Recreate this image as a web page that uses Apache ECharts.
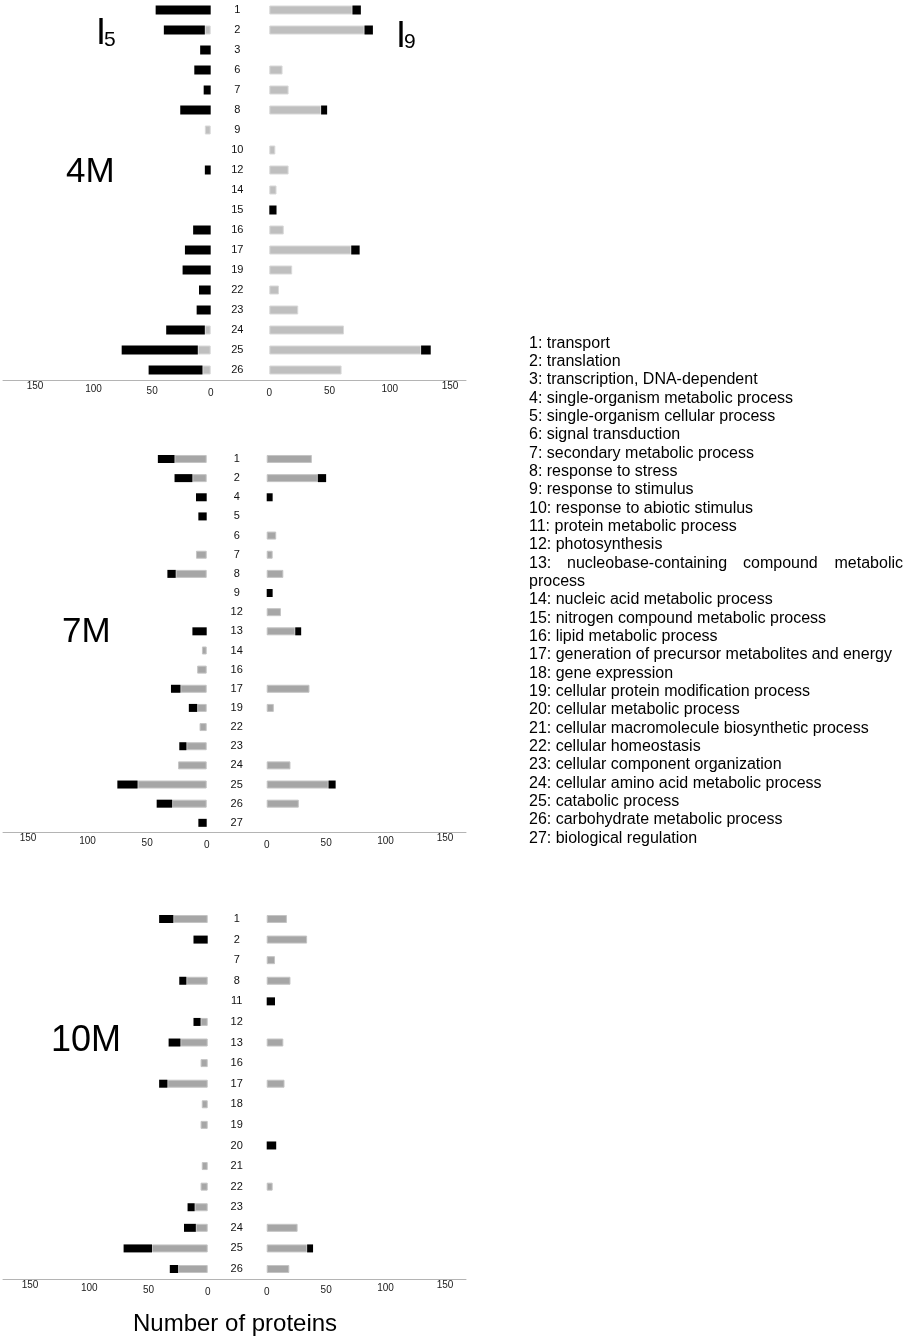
<!DOCTYPE html>
<html>
<head>
<meta charset="utf-8">
<script src="https://cdn.jsdelivr.net/npm/echarts@6/dist/echarts.min.js"></script>
<style>
  html, body { margin: 0; padding: 0; background: #fff; }
  #chart { width: 904px; height: 1339px; }
</style>
</head>
<body>
<div id="chart"></div>
<script>
// 4M
const cats4 = ['1', '2', '3', '6', '7', '8', '9', '10', '12', '14', '15', '16', '17', '19', '22', '23', '24', '25', '26'];
const i5Gray4 = [0, 5, 0, 0, 0, 0, 5, 0, 0, 0, 0, 0, 0, 0, 0, 0, 5, 11, 7];
const i5Black4 = [47, 35, 9, 14, 6, 26, 0, 0, 5, 0, 0, 15, 22, 24, 10, 12, 33, 65, 46];
const i9Gray4 = [69, 79, 0, 11, 16, 43, 0, 5, 16, 6, 0, 12, 68, 19, 8, 24, 62, 126, 60];
const i9Black4 = [7, 7, 0, 0, 0, 5, 0, 0, 0, 0, 6, 0, 7, 0, 0, 0, 0, 8, 0];

// 7M
const cats7 = ['1', '2', '4', '5', '6', '7', '8', '9', '12', '13', '14', '16', '17', '19', '22', '23', '24', '25', '26', '27'];
const i5Gray7 = [27, 12, 0, 0, 0, 9, 26, 0, 0, 0, 4, 8, 22, 8, 6, 17, 24, 58, 29, 0];
const i5Black7 = [14, 15, 9, 7, 0, 0, 7, 0, 0, 12, 0, 0, 8, 7, 0, 6, 0, 17, 13, 7];
const i9Gray7 = [38, 43, 0, 0, 8, 5, 14, 0, 12, 24, 0, 0, 36, 6, 0, 0, 20, 52, 27, 0];
const i9Black7 = [0, 7, 5, 0, 0, 0, 0, 5, 0, 5, 0, 0, 0, 0, 0, 0, 0, 6, 0, 0];

// 10M
const cats10 = ['1', '2', '7', '8', '11', '12', '13', '16', '17', '18', '19', '20', '21', '22', '23', '24', '25', '26'];
const i5Gray10 = [29, 0, 0, 18, 0, 6, 23, 6, 34, 5, 6, 0, 5, 6, 11, 10, 47, 25];
const i5Black10 = [12, 12, 0, 6, 0, 6, 10, 0, 7, 0, 0, 0, 0, 0, 6, 10, 24, 7];
const i9Gray10 = [17, 34, 7, 20, 0, 0, 14, 0, 15, 0, 0, 0, 0, 5, 0, 26, 34, 19];
const i9Black10 = [0, 0, 0, 0, 7, 0, 0, 0, 0, 0, 0, 8, 0, 0, 0, 0, 5, 0];

const axisTicks = [0, 50, 100, 150];

const processNames = [
  'transport', 'translation', 'transcription, DNA-dependent',
  'single-organism metabolic process', 'single-organism cellular process',
  'signal transduction', 'secondary metabolic process', 'response to stress',
  'response to stimulus', 'response to abiotic stimulus', 'protein metabolic process',
  'photosynthesis', 'nucleobase-containing compound metabolic process',
  'nucleic acid metabolic process', 'nitrogen compound metabolic process',
  'lipid metabolic process', 'generation of precursor metabolites and energy',
  'gene expression', 'cellular protein modification process', 'cellular metabolic process',
  'cellular macromolecule biosynthetic process', 'cellular homeostasis',
  'cellular component organization', 'cellular amino acid metabolic process',
  'catabolic process', 'carbohydrate metabolic process', 'biological regulation'
];

const panels = [
  { name: '4M', cats: cats4, l: [i5Gray4, i5Black4], r: [i9Gray4, i9Black4],
    top: -4, height: 384, lLeft: 35, lWidth: 175.7, rLeft: 269.3, rWidth: 180.7,
    labelMargin: 32, gray: '#bfbfbf', grayBorder: '#d9d9d9', barWidth: 9,
    tx: 66, ty: 172.5, tsize: 35 },
  { name: '7M', cats: cats7, l: [i5Gray7, i5Black7], r: [i9Gray7, i9Black7],
    top: 449.4, height: 383, lLeft: 28, lWidth: 178.7, rLeft: 266.7, rWidth: 178.3,
    labelMargin: 30, gray: '#a6a6a6', grayBorder: '#c4c4c4', barWidth: 8,
    tx: 62, ty: 632, tsize: 35 },
  { name: '10M', cats: cats10, l: [i5Gray10, i5Black10], r: [i9Gray10, i9Black10],
    top: 908.7, height: 370.6, lLeft: 30, lWidth: 177.7, rLeft: 266.7, rWidth: 178.3,
    labelMargin: 30, gray: '#a6a6a6', grayBorder: '#c4c4c4', barWidth: 8,
    tx: 51, ty: 1041.5, tsize: 36 }
];

const FONT = '"Liberation Sans", Arial, sans-serif';
const tickPad = { 150: 0, 100: 3, 50: 5, 0: 7 };
const rich = {};
axisTicks.forEach(v => {
  rich['p' + v] = { padding: [tickPad[v], 0, 0, 0], fontSize: 10, color: '#1a1a1a', fontFamily: FONT };
});

const grid = [], xAxis = [], yAxis = [], series = [];
const clean = arr => arr.map(v => (v ? v : '-'));

panels.forEach((p, k) => {
  const gi = grid.length;
  // left (I5), right (I9), full-width baseline
  grid.push({ left: p.lLeft, width: p.lWidth, top: p.top, height: p.height });
  grid.push({ left: p.rLeft, width: p.rWidth, top: p.top, height: p.height });
  grid.push({ left: 3, width: 463, top: p.top, height: p.height });

  const valueAxis = (gIdx, inverse) => ({
    type: 'value', gridIndex: gIdx, min: 0, max: 150, interval: 50, inverse: inverse,
    axisLine: { show: false }, axisTick: { show: false }, splitLine: { show: false },
    axisLabel: { margin: 1, formatter: v => '{p' + v + '|' + v + '}', rich: rich }
  });
  xAxis.push(valueAxis(gi, true));
  xAxis.push(valueAxis(gi + 1, false));
  xAxis.push({
    type: 'value', gridIndex: gi + 2, min: 0, max: 1,
    axisLine: { show: true, lineStyle: { color: '#b4b4b4', width: 1 } },
    axisTick: { show: false }, axisLabel: { show: false }, splitLine: { show: false }
  });

  yAxis.push({
    type: 'category', gridIndex: gi, data: p.cats, inverse: true, show: false
  });
  yAxis.push({
    type: 'category', gridIndex: gi + 1, data: p.cats, inverse: true,
    axisLine: { show: false }, axisTick: { show: false },
    axisLabel: { align: 'center', margin: p.labelMargin, fontSize: 11, color: '#111', fontFamily: FONT }
  });
  yAxis.push({ type: 'category', gridIndex: gi + 2, data: p.cats, show: false });

  const sides = [[p.l, gi, 'L'], [p.r, gi + 1, 'R']];
  sides.forEach(([vals, idx, tag]) => {
    series.push({
      type: 'bar', name: 'gray', xAxisIndex: idx, yAxisIndex: idx, stack: tag + k,
      barWidth: p.barWidth, data: clean(vals[0]), silent: true,
      itemStyle: { color: p.gray, borderColor: p.grayBorder, borderWidth: 1 }
    });
    series.push({
      type: 'bar', name: 'black', xAxisIndex: idx, yAxisIndex: idx, stack: tag + k,
      barWidth: p.barWidth, data: clean(vals[1]), silent: true,
      itemStyle: { color: '#000' }
    });
  });
});

// text elements
const graphic = [];
const txt = (text, x, y, size, align) => ({
  type: 'text', x: x, y: y, silent: true,
  style: {
    text: text, fontSize: size, fontFamily: FONT, fill: '#000',
    align: align || 'left', verticalAlign: 'middle',
    textAlign: align || 'left', textVerticalAlign: 'middle'
  }
});

panels.forEach(p => graphic.push(txt(p.name, p.tx, p.ty, p.tsize)));
graphic.push(txt('I', 96, 34.5, 36));
graphic.push(txt('5', 104, 40.5, 21));
graphic.push(txt('I', 396, 37.5, 36));
graphic.push(txt('9', 404, 42.5, 21));
graphic.push(txt('Number of proteins', 133, 1324, 24));

const legX = 529, legY0 = 343.3, legStep = 18.33;
let line = 0;
processNames.forEach((name, i) => {
  const num = (i + 1) + ':';
  const y = legY0 + line * legStep;
  if (i === 12) {
    // justified line in the original
    const words = name.split(' ');
    graphic.push(txt(num, legX, y, 16));
    graphic.push(txt(words[0], 567, y, 16));
    graphic.push(txt(words[1], 743, y, 16));
    graphic.push(txt(words[2], 903, y, 16, 'right'));
    line++;
    graphic.push(txt(words[3], legX, legY0 + line * legStep, 16));
  } else {
    graphic.push(txt(num + ' ' + name, legX, y, 16));
  }
  line++;
});

const chart = echarts.init(document.getElementById('chart'));
chart.setOption({
  backgroundColor: '#fff',
  animation: false,
  grid: grid,
  xAxis: xAxis,
  yAxis: yAxis,
  series: series,
  graphic: graphic
});
</script>
</body>
</html>
